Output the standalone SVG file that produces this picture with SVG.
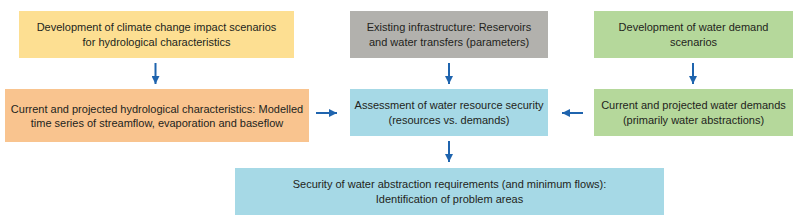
<svg xmlns="http://www.w3.org/2000/svg" width="800" height="224" viewBox="0 0 800 224">
<style>
text{font-family:"Liberation Sans",Arial,sans-serif;font-size:11px;fill:#231f20;text-anchor:middle}
.c{stroke:#1f64ae;stroke-width:2;fill:none}
</style>
<defs>
<marker id="ah" viewBox="0 0 10 10" refX="10" refY="5" markerWidth="4" markerHeight="4" orient="auto" markerUnits="strokeWidth">
<path d="M0,0 L10,5 L0,10 z" fill="#1f64ae"/>
</marker>
</defs>
<rect width="800" height="224" fill="#fff"/>
<g id="n1"><rect x="19" y="11" width="275" height="47" fill="#fddf92"/>
<text x="156.5" y="31">Development of climate change impact scenarios</text>
<text x="156.5" y="45.5">for hydrological characteristics</text></g>
<g id="n2"><rect x="350" y="11" width="198" height="47" fill="#b2b1ad"/>
<text x="449" y="31">Existing infrastructure: Reservoirs</text>
<text x="449" y="45.5">and water transfers (parameters)</text></g>
<g id="n3"><rect x="594" y="11" width="199" height="47" fill="#b5d89b"/>
<text x="693.5" y="31">Development of water demand</text>
<text x="693.5" y="45.5">scenarios</text></g>
<g id="n4"><rect x="5" y="89" width="304" height="53" fill="#f9c48f"/>
<text x="157" y="112.5">Current and projected hydrological characteristics: Modelled</text>
<text x="157" y="127">time series of streamflow, evaporation and baseflow</text></g>
<g id="n5"><rect x="350" y="89" width="198" height="47" fill="#a6d9e6"/>
<text x="449" y="109">Assessment of water resource security</text>
<text x="449" y="123.5">(resources vs. demands)</text></g>
<g id="n6"><rect x="594" y="89" width="199" height="47" fill="#b5d89b"/>
<text x="693.5" y="109">Current and projected water demands</text>
<text x="693.5" y="123.5">(primarily water abstractions)</text></g>
<g id="n7"><rect x="235" y="168" width="429" height="47" fill="#a6d9e6"/>
<text x="449.5" y="188">Security of water abstraction requirements (and minimum flows):</text>
<text x="449.5" y="202.5">Identification of problem areas</text></g>
<g id="connectors">
<line class="c" x1="155.5" y1="63" x2="155.5" y2="84" marker-end="url(#ah)"/>
<line class="c" x1="449" y1="63" x2="449" y2="84" marker-end="url(#ah)"/>
<line class="c" x1="693" y1="63" x2="693" y2="84" marker-end="url(#ah)"/>
<line class="c" x1="316" y1="113" x2="337" y2="113" marker-end="url(#ah)"/>
<line class="c" x1="583" y1="113" x2="562" y2="113" marker-end="url(#ah)"/>
<line class="c" x1="449" y1="141" x2="449" y2="162" marker-end="url(#ah)"/>
</g>
</svg>
